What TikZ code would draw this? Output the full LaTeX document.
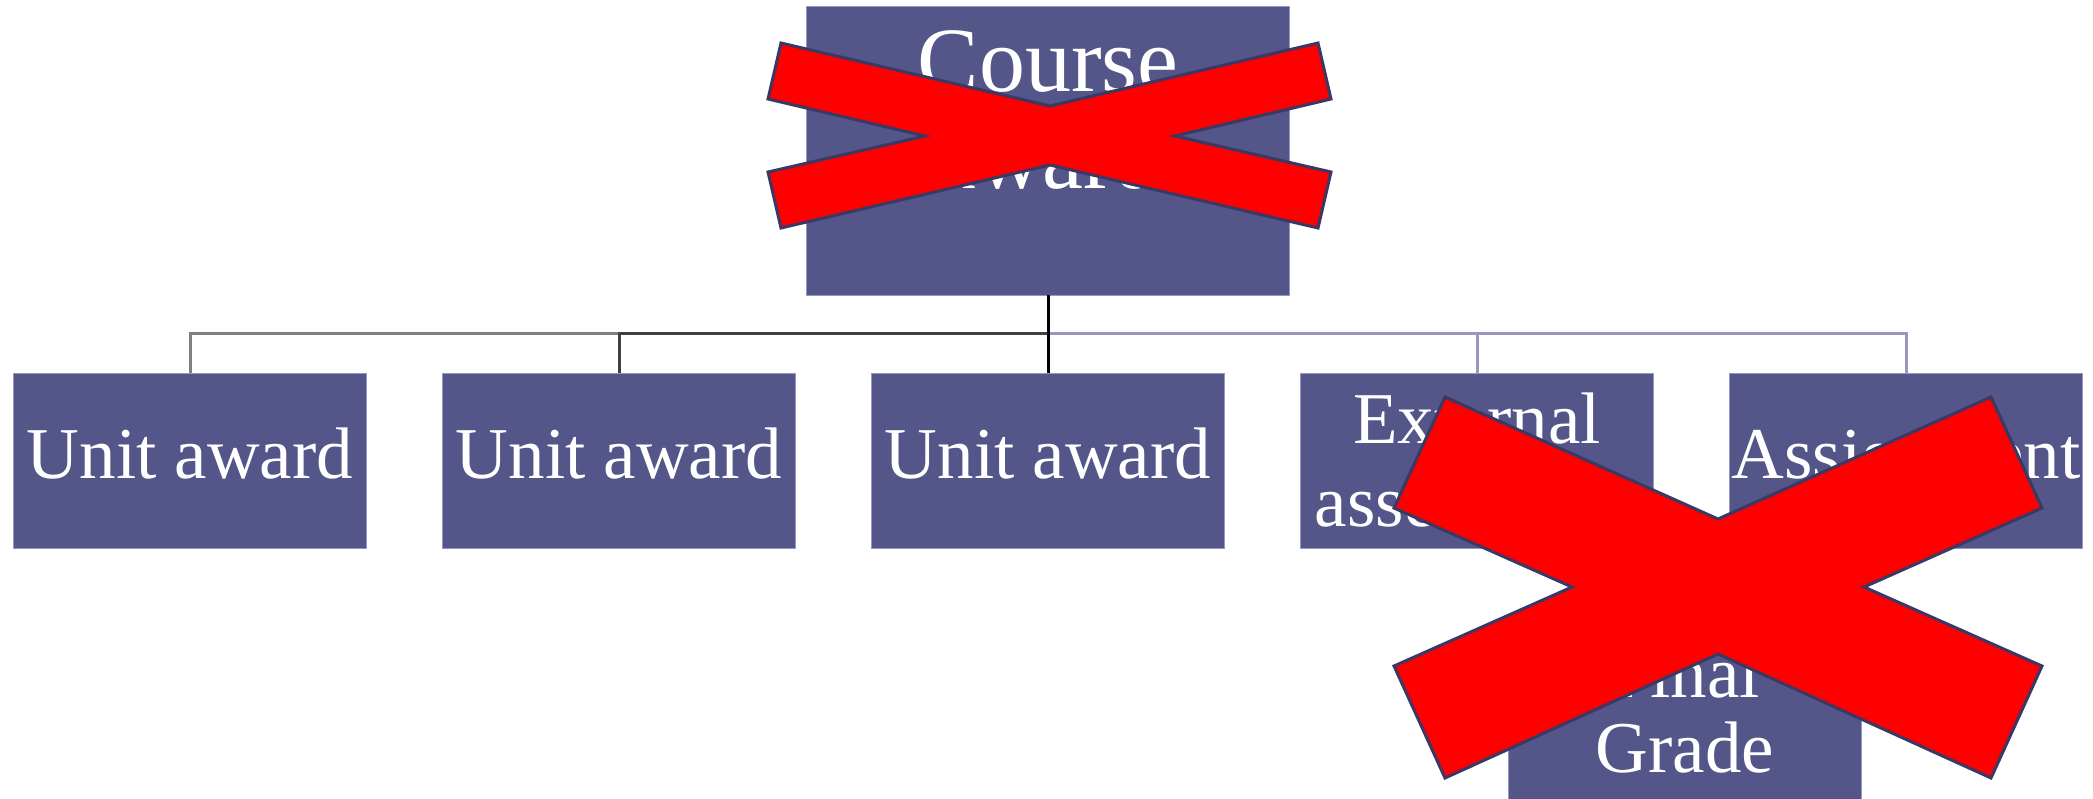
\documentclass[tikz,border=0pt]{standalone}
\usepackage{fontspec}
\setmainfont{Liberation Serif}
\usetikzlibrary{positioning}

\definecolor{boxfill}{RGB}{84,85,136}
\definecolor{boxedge}{RGB}{150,150,195}
\definecolor{linklav}{RGB}{152,152,190}
\definecolor{crossred}{RGB}{255,0,0}
\definecolor{crossedge}{RGB}{58,56,100}

\begin{document}
\begin{tikzpicture}[x=0.5pt, y=-0.5pt, node distance=38pt,
  box/.style={draw=boxedge, line width=0.5pt, fill=boxfill, text=white, inner sep=0pt, outer sep=0pt, minimum width=176.5pt, minimum height=87.5pt, align=center, font=\fontsize{36.5}{41.5}\selectfont},
  oneline/.style={text height=25pt, text depth=7.5pt},
  link/.style={line width=1.5pt},
  cross/.style={fill=crossred, draw=crossedge, line width=1.5pt, line join=miter}]

  \useasboundingbox (0,0) rectangle (2093,798);

  % top box
  \node[box, minimum width=241.5pt, minimum height=144.5pt] (course) at (1048,150.5) {};
  \node[anchor=north, inner sep=0pt, text=white, align=center, font=\fontsize{46}{48.5}\selectfont] (coursetext) at (1048,30) {Course\\award};

  % second row
  \node[box, oneline] (u1) at (190,460.5) {Unit award};
  \node[box, oneline, right=of u1] (u2) {Unit award};
  \node[box, oneline, right=of u2] (u3) {Unit award};
  \node[box, right=of u3] (ext) {External\\assessment};
  \node[box, oneline, right=of ext] (assign) {Assignment};

  % bottom
  \node[box, minimum height=89pt, font=\fontsize{36.5}{37.5}\selectfont] (final) at (1685,710) {Final\\Grade};

  \coordinate (bus) at (1048,333);
  \draw[link, linklav] (course.south) -- (bus) -| (ext.north);
  \draw[link, linklav] (bus) -| (assign.north);
  \draw[link, black!50] (course.south) -- (bus) -| (u1.north);
  \draw[link, black!75] (bus) -| (u2.north);
  \draw[link, black] (course.south) -- (u3.north);

  % crosses
  \draw[cross] (781,43) -- (1050,106) -- (1318,43) -- (1331,99) -- (1175,136) -- (1331,172) -- (1318,228) -- (1050,165) -- (781,228) -- (768,172) -- (925,136) -- (768,99) -- cycle;
  \draw[cross] (1445,397) -- (1718,519) -- (1991,397) -- (2042,508) -- (1864,587) -- (2042,666) -- (1991,778) -- (1718,654) -- (1445,778) -- (1394,666) -- (1572,587) -- (1394,508) -- cycle;
\end{tikzpicture}
\end{document}
